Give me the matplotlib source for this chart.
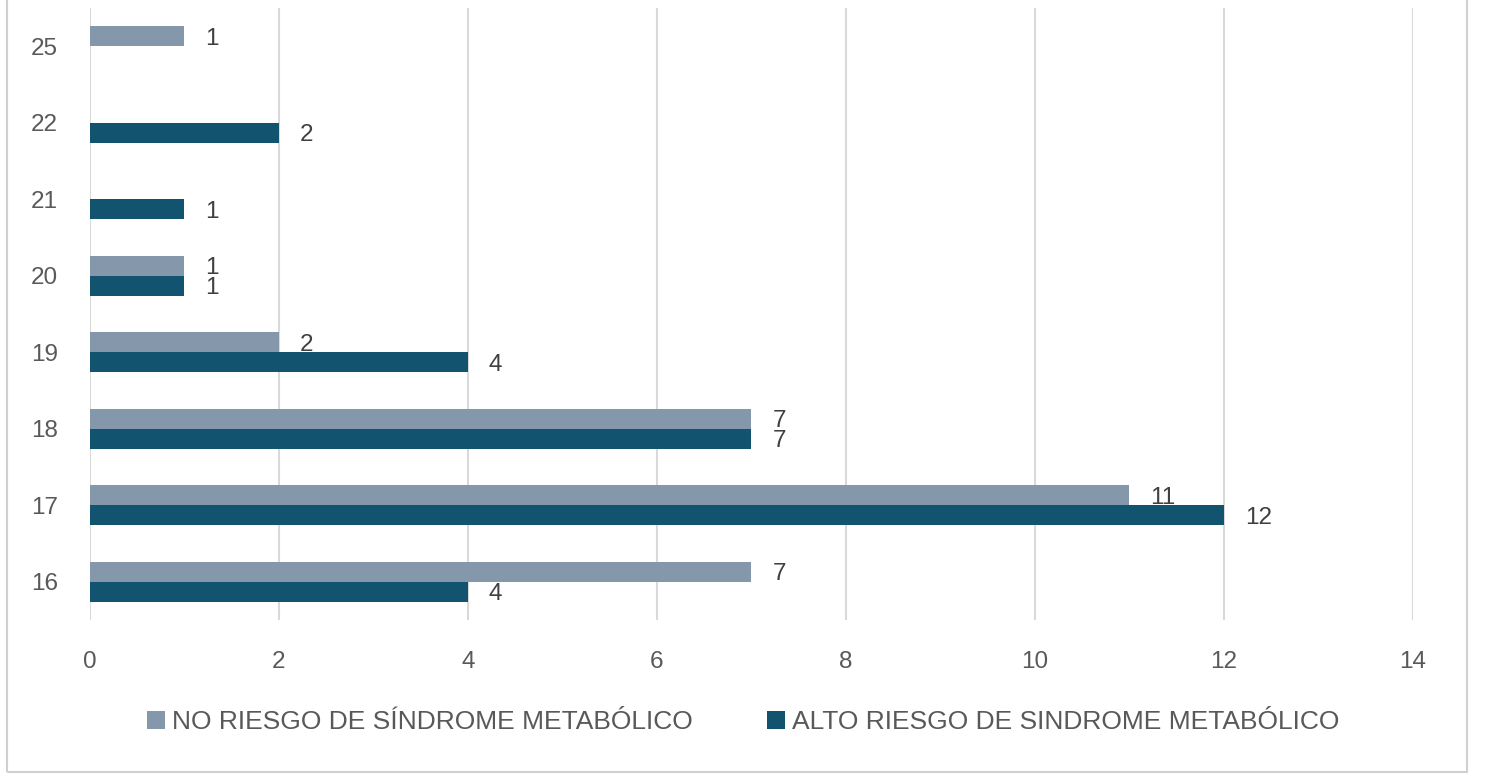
import matplotlib
matplotlib.use("Agg")
import matplotlib.pyplot as plt
import numpy as np
from matplotlib.patches import Rectangle

categories = ["16", "17", "18", "19", "20", "21", "22", "25"]
no_riesgo = [7, 11, 7, 2, 1, 0, 0, 1]
alto_riesgo = [4, 12, 7, 4, 1, 1, 2, 0]
series_names = ["NO RIESGO DE SÍNDROME METABÓLICO", "ALTO RIESGO DE SINDROME METABÓLICO"]
xticks = [0, 2, 4, 6, 8, 10, 12, 14]

c_no = "#8598ab"
c_alto = "#12536f"
txt = "#595959"

plt.rcParams['font.family'] = ['Liberation Sans', 'DejaVu Sans']

fig = plt.figure(figsize=(14.85, 7.76), dpi=100)
ax = fig.add_axes([90/1485, 1-620/776, (1413-90)/1485, (620-8)/776])

y = np.arange(len(categories))
h = 0.26
b1 = ax.barh(y + h/2, no_riesgo, height=h, color=c_no, label=series_names[0])
b2 = ax.barh(y - h/2, alto_riesgo, height=h, color=c_alto, label=series_names[1])

for bars, vals in ((b1, no_riesgo), (b2, alto_riesgo)):
    for bar, v in zip(bars, vals):
        if v == 0:
            continue
        ax.text(v + 0.22, bar.get_y() + bar.get_height()/2, str(v),
                va="center_baseline", ha="left", fontsize=17.5, color="#404040")

ax.set_xlim(0, 14)
ax.set_ylim(-0.5, len(categories) - 0.5)
ax.set_xticks(xticks)
ax.set_yticks(y)
ax.set_yticklabels(categories)
ax.grid(axis="x", color="#d9d9d9", linewidth=1.5)
ax.set_axisbelow(True)
for s in ax.spines.values():
    s.set_visible(False)
ax.tick_params(axis="both", length=0, labelsize=17.5, labelcolor=txt)
ax.tick_params(axis="x", pad=22)
ax.tick_params(axis="y", pad=23)

leg = fig.legend(handles=[b1, b2], labels=series_names, loc="center",
                 bbox_to_anchor=(743/1485, 1-722/776), ncol=2, frameon=False,
                 fontsize=19, handlelength=0.7, handleheight=0.7,
                 handletextpad=0.25, columnspacing=2.8)
for t in leg.get_texts():
    t.set_color(txt)

fig.patches.append(Rectangle((7/1485, 1-772/776), (1467-7)/1485, 772/776 + 0.01,
                             transform=fig.transFigure, fill=False,
                             edgecolor="#d0d0d0", linewidth=1.5, zorder=-1))

fig.savefig("out.png", dpi=100)
